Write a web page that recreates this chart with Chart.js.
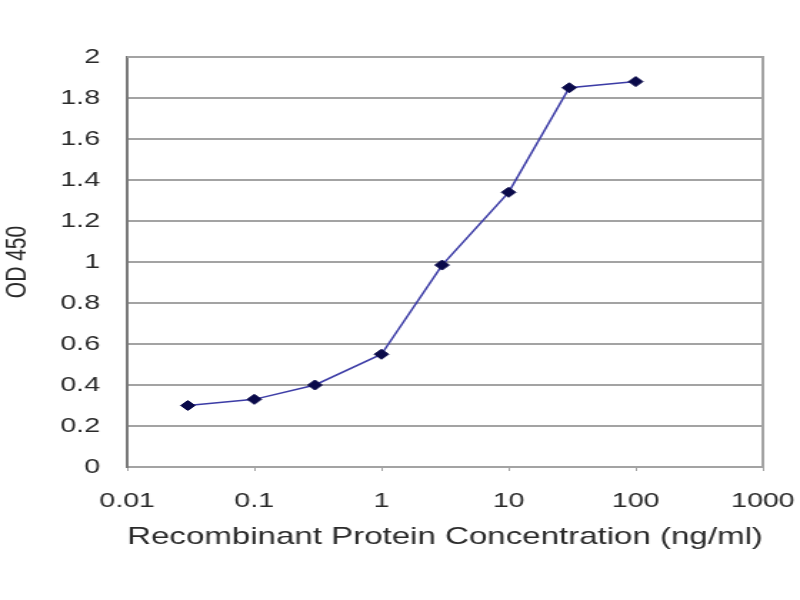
<!DOCTYPE html>
<html>
<head>
<meta charset="utf-8">
<script src="https://cdn.jsdelivr.net/npm/chart.js@4"></script>
<style>
  html, body { margin: 0; padding: 0; background: #fff; }
  #chart { display: block; }
</style>
</head>
<body>
<!-- the reference is stretched sideways, so the canvas is drawn narrow and widened by css -->
<canvas id="chart" width="560" height="600" style="width:800px;height:600px;"></canvas>
<script>
const concentrations = [0.03, 0.1, 0.3, 1, 3, 10, 30, 100];
const odValues = [0.30, 0.33, 0.40, 0.55, 0.985, 1.34, 1.85, 1.88];
const xTickValues = [0.01, 0.1, 1, 10, 100, 1000];
const yTickStep = 0.2;

const textColor = '#2a2a2a';
const gridColor = '#a3a3a3';

const points = concentrations.map((c, i) => ({ x: c, y: odValues[i] }));

const frameBox = {
    id: 'frameBox',
    beforeDatasetsDraw(chart) {
        const { ctx, chartArea } = chart;
        ctx.save();
        ctx.strokeStyle = gridColor;
        ctx.lineWidth = 2;
        ctx.beginPath();
        ctx.moveTo(chartArea.left, chartArea.top);
        ctx.lineTo(chartArea.right, chartArea.top);
        ctx.lineTo(chartArea.right, chartArea.bottom);
        ctx.stroke();
        ctx.restore();
    }
};

const ctx = document.getElementById('chart').getContext('2d');
new Chart(ctx, {
    type: 'line',
    data: {
        datasets: [{
            data: points,
            borderColor: '#3c3ca6',
            borderWidth: 1.5,
            pointStyle: 'rectRot',
            pointRadius: 5,
            pointBackgroundColor: '#0a0a4a',
            pointBorderColor: '#0a0a4a',
            pointBorderWidth: 1,
            tension: 0,
            fill: false
        }]
    },
    options: {
        responsive: false,
        animation: false,
        layout: { padding: { top: 57, right: 26, left: 0, bottom: 0 } },
        plugins: {
            legend: { display: false },
            tooltip: { enabled: false }
        },
        scales: {
            x: {
                type: 'logarithmic',
                min: 0.01,
                max: 1000,
                afterBuildTicks: scale => {
                    scale.ticks = xTickValues.map(v => ({ value: v }));
                },
                afterFit: scale => {
                    scale.height = 133;
                    scale.paddingLeft = 0;
                    scale.paddingRight = 0;
                },
                grid: {
                    drawOnChartArea: false,
                    drawTicks: true,
                    tickLength: 4,
                    color: gridColor
                },
                border: { color: gridColor, width: 2 },
                ticks: {
                    color: textColor,
                    font: { family: 'Liberation Sans, Arial, sans-serif', size: 20 },
                    padding: 18,
                    maxRotation: 0,
                    autoSkip: false,
                    callback: v => String(v)
                },
                title: {
                    display: true,
                    text: 'Recombinant Protein Concentration (ng/ml)',
                    color: textColor,
                    font: { family: 'Liberation Sans, Arial, sans-serif', size: 24 },
                    padding: { top: 0, bottom: 48 }
                }
            },
            y: {
                min: 0,
                max: 2,
                afterFit: scale => { scale.width = 89; },
                grid: {
                    color: gridColor,
                    lineWidth: 2,
                    drawTicks: false
                },
                border: { color: '#7a7a7a', width: 2 },
                ticks: {
                    stepSize: yTickStep,
                    color: textColor,
                    font: { family: 'Liberation Sans, Arial, sans-serif', size: 20 },
                    padding: 19,
                    callback: v => String(+v.toFixed(1))
                },
                title: {
                    display: true,
                    text: 'OD 450',
                    color: textColor,
                    font: { family: 'Liberation Sans, Arial, sans-serif', size: 21 },
                    padding: 0
                }
            }
        }
    },
    plugins: [frameBox]
});
</script>
</body>
</html>
